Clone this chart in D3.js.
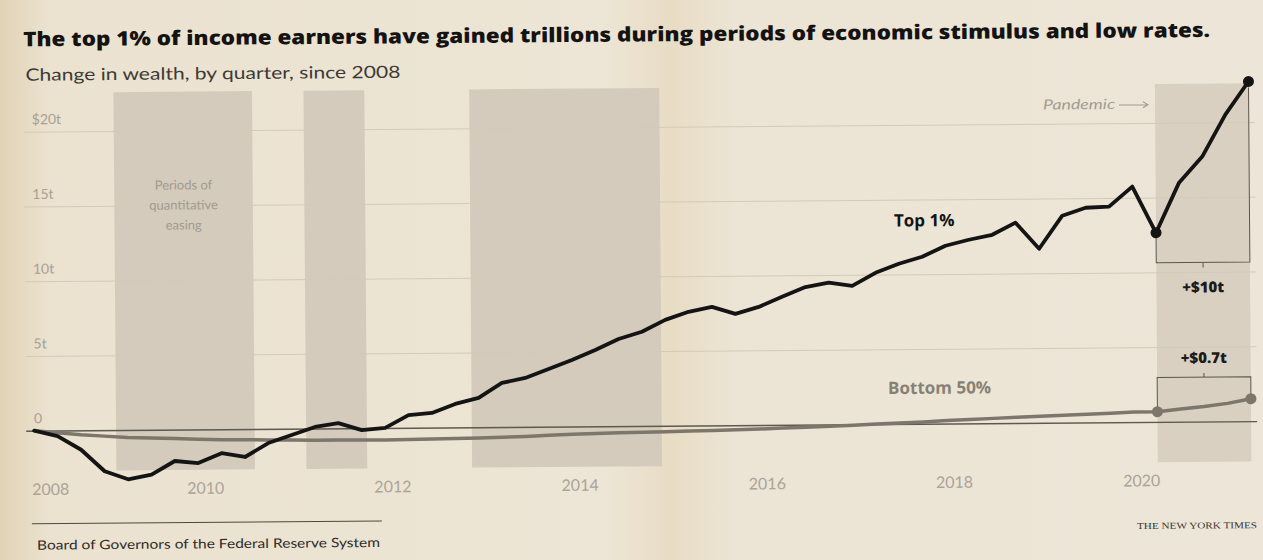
<!DOCTYPE html>
<html>
<head>
<meta charset="utf-8">
<script src="https://cdn.jsdelivr.net/npm/d3@7"></script>
<style>
  html, body { margin: 0; padding: 0; background: #ebe3d3; }
  svg { display: block; }
</style>
</head>
<body>
<div id="chart"></div>
<script>
// quarterly change in wealth since 2008, in trillions of dollars
const quarters = [
  "2008Q1", "2008Q2", "2008Q3", "2008Q4", "2009Q1", "2009Q2", "2009Q3", "2009Q4",
  "2010Q1", "2010Q2", "2010Q3", "2010Q4", "2011Q1", "2011Q2", "2011Q3", "2011Q4",
  "2012Q1", "2012Q2", "2012Q3", "2012Q4", "2013Q1", "2013Q2", "2013Q3", "2013Q4",
  "2014Q1", "2014Q2", "2014Q3", "2014Q4", "2015Q1", "2015Q2", "2015Q3", "2015Q4",
  "2016Q1", "2016Q2", "2016Q3", "2016Q4", "2017Q1", "2017Q2", "2017Q3", "2017Q4",
  "2018Q1", "2018Q2", "2018Q3", "2018Q4", "2019Q1", "2019Q2", "2019Q3", "2019Q4",
  "2020Q1", "2020Q2", "2020Q3", "2020Q4", "2021Q1",
];
const top1 = [
  0, -0.37, -1.3, -2.75, -3.3, -3.0, -2.1, -2.25,
  -1.6, -1.87, -0.95, -0.42, 0.1, 0.35, -0.13, 0.0,
  0.85, 0.98, 1.57, 1.96, 2.95, 3.27, 3.86, 4.45,
  5.1, 5.83, 6.3, 7.08, 7.61, 7.93, 7.45, 7.9,
  8.56, 9.2, 9.48, 9.26, 10.12, 10.71, 11.17, 11.89,
  12.28, 12.6, 13.4, 11.64, 13.84, 14.36, 14.42, 15.75,
  12.65, 15.99, 17.72, 20.52, 22.72,
];
const bottom50 = [
  0, -0.15, -0.3, -0.4, -0.5, -0.55, -0.6, -0.65,
  -0.7, -0.72, -0.74, -0.76, -0.78, -0.78, -0.8, -0.8,
  -0.78, -0.76, -0.74, -0.72, -0.68, -0.64, -0.58, -0.52,
  -0.48, -0.45, -0.42, -0.4, -0.37, -0.34, -0.3, -0.27,
  -0.22, -0.17, -0.12, -0.06, 0.0, 0.06, 0.12, 0.2,
  0.26, 0.32, 0.38, 0.44, 0.5, 0.55, 0.6, 0.68,
  0.68, 0.85, 1.0, 1.2, 1.5,
];

// periods of quantitative easing (fractional years)
const qeStart = [2009.0, 2011.03, 2012.8];
const qeEnd = [2010.48, 2011.68, 2014.83];
const pandemic = ["2020Q1", "2021Q1"];

const yTicks = [0, 5, 10, 15, 20];
const yTickLabels = ["0", "5t", "10t", "15t", "$20t"];
const xTicks = [2008, 2010, 2012, 2014, 2016, 2018, 2020];

const width = 1263;
const height = 560;
const plot = { left: 33, right: 1250, gridLeft: 25, gridRight: 1256 };

const qYear = (q) => +q.slice(0, 4) + (+q.slice(5) - 0.5) / 4;
const years = quarters.map(qYear);

const x = d3.scaleLinear()
  .domain([years[0], years[years.length - 1]])
  .range([plot.left, plot.right]);
const y = d3.scaleLinear().domain([0, 20]).range([426, 127]);

const svg = d3.select("#chart")
  .append("svg")
  .attr("width", width)
  .attr("height", height);

// paper
const grad = svg.append("defs").append("linearGradient").attr("id", "paper");
[["0%", "#e2d3b6"], ["4%", "#ebe2d0"], ["48%", "#ede5d5"], ["53%", "#e8dcc4"],
  ["58%", "#ece4d4"], ["100%", "#ede6d8"]].forEach(([o, c]) =>
  grad.append("stop").attr("offset", o).attr("stop-color", c));
svg.append("rect").attr("width", width).attr("height", height).attr("fill", "url(#paper)");

// the clipping is slightly tilted on the page
const g = svg.append("g").attr("transform", `rotate(-0.45, ${width / 2}, ${height / 2})`);

const bandTop = y(22.6);
const bandBottom = y(-2.7);

// QE bands
g.selectAll(".qe")
  .data(qeStart.map((s, i) => [s, qeEnd[i]]))
  .join("rect")
  .attr("class", "qe")
  .attr("x", (d) => x(d[0]))
  .attr("width", (d) => x(d[1]) - x(d[0]))
  .attr("y", bandTop)
  .attr("height", bandBottom - bandTop)
  .attr("fill", "#d4cbbc");

// pandemic band
const pStart = x(qYear(pandemic[0]));
const pEnd = x(qYear(pandemic[1]));
g.append("rect")
  .attr("x", pStart)
  .attr("width", pEnd - pStart)
  .attr("y", bandTop)
  .attr("height", bandBottom - bandTop)
  .attr("fill", "#d9d0c2");

// y axis + gridlines
const yAxis = d3.axisRight(y)
  .tickValues(yTicks)
  .tickSize(plot.gridRight - plot.gridLeft)
  .tickFormat((d, i) => yTickLabels[i]);

const yg = g.append("g")
  .attr("transform", `translate(${plot.gridLeft},0)`)
  .call(yAxis);
yg.select(".domain").remove();
yg.selectAll(".tick line")
  .attr("stroke", (d) => (d === 0 ? "#5e584f" : "#d3cab9"))
  .attr("stroke-width", (d) => (d === 0 ? 1.4 : 1));
yg.selectAll(".tick text")
  .attr("x", 8)
  .attr("dy", -8)
  .attr("text-anchor", "start")
  .style("font-family", "Lato, 'Open Sans', sans-serif")
  .style("font-size", "14px")
  .style("fill", "#a7a095");

// x axis labels
const xAxis = d3.axisBottom(x)
  .tickValues(xTicks)
  .tickSize(0)
  .tickFormat(d3.format("d"));
const xg = g.append("g")
  .attr("transform", "translate(0,476)")
  .call(xAxis);
xg.select(".domain").remove();
xg.selectAll(".tick text")
  .attr("dx", -5)
  .style("font-family", "Lato, 'Open Sans', sans-serif")
  .style("font-size", "16px")
  .style("fill", "#aaa398");
xg.selectAll(".tick text")
  .filter((d) => d === xTicks[0])
  .attr("text-anchor", "start")
  .attr("dx", plot.gridLeft + 5 - x(xTicks[0]));

// QE note
g.append("text")
  .attr("x", (x(qeStart[0]) + x(qeEnd[0])) / 2)
  .attr("y", 186)
  .attr("text-anchor", "middle")
  .style("font-family", "Lato, 'Open Sans', sans-serif")
  .style("font-size", "13px")
  .style("fill", "#a19a8e")
  .selectAll("tspan")
  .data(["Periods of", "quantitative", "easing"])
  .join("tspan")
  .attr("x", (x(qeStart[0]) + x(qeEnd[0])) / 2)
  .attr("dy", (d, i) => (i === 0 ? 0 : 20))
  .text((d) => d);

// lines
const pts = (vals) => vals.map((v, i) => [years[i], v]);
const line = d3.line()
  .x((d) => x(d[0]))
  .y((d) => y(d[1]))
  .curve(d3.curveLinear);

g.append("path")
  .datum(pts(bottom50))
  .attr("fill", "none")
  .attr("stroke", "#7c766b")
  .attr("stroke-width", 3.5)
  .attr("stroke-linejoin", "round")
  .attr("d", line);

g.append("path")
  .datum(pts(top1))
  .attr("fill", "none")
  .attr("stroke", "#141414")
  .attr("stroke-width", 3.8)
  .attr("stroke-linejoin", "round")
  .attr("stroke-linecap", "round")
  .attr("d", line);

// pandemic brackets
const iDip = quarters.indexOf(pandemic[0]);
const iEnd = quarters.indexOf(pandemic[1]);
const xDip = x(years[iDip]);
const xEnd = x(years[iEnd]);
const xMid = (xDip + xEnd) / 2;

const topBracketY = y(top1[iDip]) + 30;
g.append("path")
  .attr("fill", "none")
  .attr("stroke", "#5b554c")
  .attr("stroke-width", 1)
  .attr("d", `M${xDip},${y(top1[iDip])}V${topBracketY}H${xEnd}V${y(top1[iEnd]) + 6}` +
    `M${xMid},${topBracketY}v5`);

const botBracketY = y(bottom50[iEnd]) - 22;
g.append("path")
  .attr("fill", "none")
  .attr("stroke", "#5b554c")
  .attr("stroke-width", 1)
  .attr("d", `M${xDip},${y(bottom50[iDip])}V${botBracketY}H${xEnd}V${y(bottom50[iEnd])}` +
    `M${xMid},${botBracketY}v-4`);

// dots
g.selectAll(".dot-top")
  .data([iDip, iEnd])
  .join("circle")
  .attr("cx", (i) => x(years[i]))
  .attr("cy", (i) => y(top1[i]))
  .attr("r", 5.5)
  .attr("fill", "#141414");
g.selectAll(".dot-bottom")
  .data([iDip, iEnd])
  .join("circle")
  .attr("cx", (i) => x(years[i]))
  .attr("cy", (i) => y(bottom50[i]))
  .attr("r", 5.5)
  .attr("fill", "#7c766b");

const boldFont = "'Open Sans', 'DejaVu Sans', sans-serif";

g.append("text")
  .attr("x", xMid)
  .attr("y", topBracketY + 30)
  .attr("text-anchor", "middle")
  .style("font-family", boldFont)
  .style("font-weight", 800)
  .style("font-size", "15px")
  .style("fill", "#1d1b18")
  .text("+$10t");

g.append("text")
  .attr("x", xMid)
  .attr("y", botBracketY - 14)
  .attr("text-anchor", "middle")
  .style("font-family", boldFont)
  .style("font-weight", 800)
  .style("font-size", "15px")
  .style("fill", "#1d1b18")
  .text("+$0.7t");

// pandemic label
const pandemicLabel = g.append("g").attr("transform", `translate(${pStart - 4},${y(20.95)})`);
pandemicLabel.append("text")
  .attr("x", -36)
  .attr("text-anchor", "end")
  .attr("textLength", 72)
  .attr("lengthAdjust", "spacingAndGlyphs")
  .style("font-family", "Lato, 'Open Sans', sans-serif")
  .style("font-style", "italic")
  .style("font-size", "14px")
  .style("fill", "#a39c90")
  .text("Pandemic");
pandemicLabel.append("path")
  .attr("d", "M-32,-4H-4M-8,-7L-3,-4L-8,-1")
  .attr("fill", "none")
  .attr("stroke", "#a39c90")
  .attr("stroke-width", 1);

// series labels
g.append("text")
  .attr("x", x(2017.65))
  .attr("y", y(13.2))
  .attr("text-anchor", "middle")
  .style("font-family", boldFont)
  .style("font-weight", 700)
  .style("font-size", "17px")
  .style("fill", "#141414")
  .text("Top 1%");

g.append("text")
  .attr("x", x(2017.8))
  .attr("y", y(2.0))
  .attr("text-anchor", "middle")
  .style("font-family", boldFont)
  .style("font-weight", 700)
  .style("font-size", "17px")
  .style("fill", "#878174")
  .text("Bottom 50%");

// title + subtitle
g.append("text")
  .attr("x", 25)
  .attr("y", 41.5)
  .attr("textLength", 1187)
  .attr("lengthAdjust", "spacingAndGlyphs")
  .style("font-family", boldFont)
  .style("font-weight", 800)
  .style("font-size", "20px")
  .style("fill", "#141312")
  .text("The top 1% of income earners have gained trillions during periods of economic stimulus and low rates.");

g.append("text")
  .attr("x", 27)
  .attr("y", 76)
  .attr("textLength", 375)
  .attr("lengthAdjust", "spacingAndGlyphs")
  .style("font-family", "Lato, 'Open Sans', sans-serif")
  .style("font-size", "17px")
  .style("fill", "#3d3a35")
  .text("Change in wealth, by quarter, since 2008");

// source
g.append("line")
  .attr("x1", 30).attr("x2", 380)
  .attr("y1", 519).attr("y2", 519)
  .attr("stroke", "#4d4943")
  .attr("stroke-width", 1);

g.append("text")
  .attr("x", 35)
  .attr("y", 545)
  .attr("textLength", 343)
  .attr("lengthAdjust", "spacingAndGlyphs")
  .style("font-family", "Lato, 'Open Sans', sans-serif")
  .style("font-size", "13px")
  .style("fill", "#2e2b27")
  .text("Board of Governors of the Federal Reserve System");

g.append("text")
  .attr("x", 1255)
  .attr("y", 533)
  .attr("text-anchor", "end")
  .attr("textLength", 120)
  .attr("lengthAdjust", "spacingAndGlyphs")
  .style("font-family", "'Liberation Serif', serif")
  .style("font-size", "9px")
  .style("fill", "#3b3833")
  .text("THE NEW YORK TIMES");
</script>
</body>
</html>
